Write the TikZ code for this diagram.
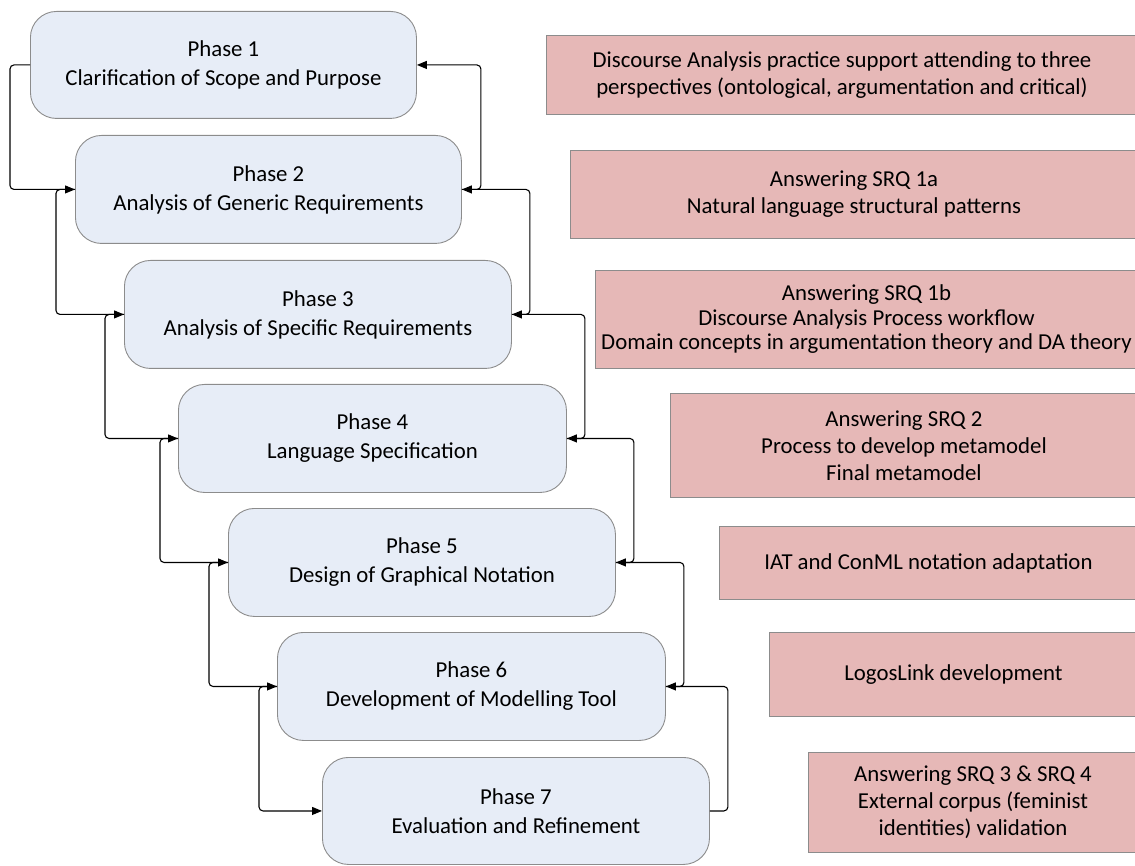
\documentclass[tikz,border=0pt]{standalone}
\usepackage{fontspec}
\setmainfont{Carlito}
\usetikzlibrary{arrows.meta}
\definecolor{phasefill}{HTML}{E7EDF7}
\definecolor{notefill}{HTML}{E6B8B7}
\definecolor{edgegray}{HTML}{8C8C8C}
\begin{document}
\begin{tikzpicture}[x=1pt,y=-1pt,
  phase/.style={draw=edgegray, fill=phasefill, rounded corners=26pt, line width=0.9pt,
    align=center, inner sep=0pt, anchor=north west,
    font=\fontsize{22.8}{29}\selectfont},
  note/.style={draw=edgegray, fill=notefill, line width=0.9pt,
    align=center, inner sep=0pt, anchor=north west,
    font=\fontsize{22.8}{27}\selectfont},
  conn/.style={draw=black, line width=1.1pt, rounded corners=4pt,
    -{Triangle[length=10pt,width=8pt]}}]
\useasboundingbox (0,0) rectangle (1135,866);

% phase boxes, stepping down to the right
\node[phase, minimum width=386pt, minimum height=107pt] (p1) at (30,11)
  {Phase 1\\Clarification of Scope and Purpose};
\node[phase, minimum width=386pt, minimum height=108pt] (p2) at (75,135)
  {Phase 2\\Analysis of Generic Requirements};
\node[phase, minimum width=387pt, minimum height=108pt] (p3) at (124,260)
  {Phase 3\\Analysis of Specific Requirements};
\node[phase, minimum width=388pt, minimum height=108pt] (p4) at (178,384)
  {Phase 4\\Language Specification};
\node[phase, minimum width=387pt, minimum height=108pt] (p5) at (228,508)
  {Phase 5\\Design of Graphical Notation};
\node[phase, minimum width=388pt, minimum height=108pt] (p6) at (277,632)
  {Phase 6\\Development of Modelling Tool};
\node[phase, minimum width=387pt, minimum height=107pt] (p7) at (322,757)
  {Phase 7\\Evaluation and Refinement};

% outcome boxes on the right
\node[note, minimum width=591pt, minimum height=79pt] (r1) at (546,35)
  {Discourse Analysis practice support attending to three\\perspectives (ontological, argumentation and critical)};
\node[note, minimum width=567pt, minimum height=88pt] (r2) at (570,150)
  {Answering SRQ 1a\\Natural language structural patterns};
\node[note, minimum width=542pt, minimum height=98pt, font=\fontsize{22.8}{24.5}\selectfont] (r3) at (595,270)
  {Answering SRQ 1b\\Discourse Analysis Process workflow\\Domain concepts in argumentation theory and DA theory};
\node[note, minimum width=467pt, minimum height=104pt] (r4) at (670,393)
  {Answering SRQ 2\\Process to develop metamodel\\Final metamodel};
\node[note, minimum width=418pt, minimum height=73pt] (r5) at (719,526)
  {IAT and ConML notation adaptation};
\node[note, minimum width=368pt, minimum height=84pt] (r6) at (769,632)
  {LogosLink development};
\node[note, minimum width=329pt, minimum height=100pt] (r7) at (808,752)
  {Answering SRQ 3 \& SRQ 4\\External corpus (feminist\\identities) validation};

% forward links on the left
\draw[conn] (p1.west) -- ++(-20,0) |- (p2.west);
\draw[conn] (p2.west) -- ++(-19,0) |- (p3.west);
\draw[conn] (p3.west) -- ++(-19,0) |- (p4.west);
\draw[conn] (p4.west) -- ++(-18,0) |- (p5.west);
\draw[conn] (p5.west) -- ++(-19,0) |- (p6.west);
\draw[conn] (p6.west) -- ++(-18,0) |- (p7.west);

% feedback links on the right
\draw[conn] (p2.east) -- ++(19,0) |- (p1.east);
\draw[conn] (p3.east) -- ++(18,0) |- (p2.east);
\draw[conn] (p4.east) -- ++(18,0) |- (p3.east);
\draw[conn] (p5.east) -- ++(18,0) |- (p4.east);
\draw[conn] (p6.east) -- ++(18,0) |- (p5.east);
\draw[conn] (p7.east) -- ++(18,0) |- (p6.east);
\end{tikzpicture}
\end{document}
